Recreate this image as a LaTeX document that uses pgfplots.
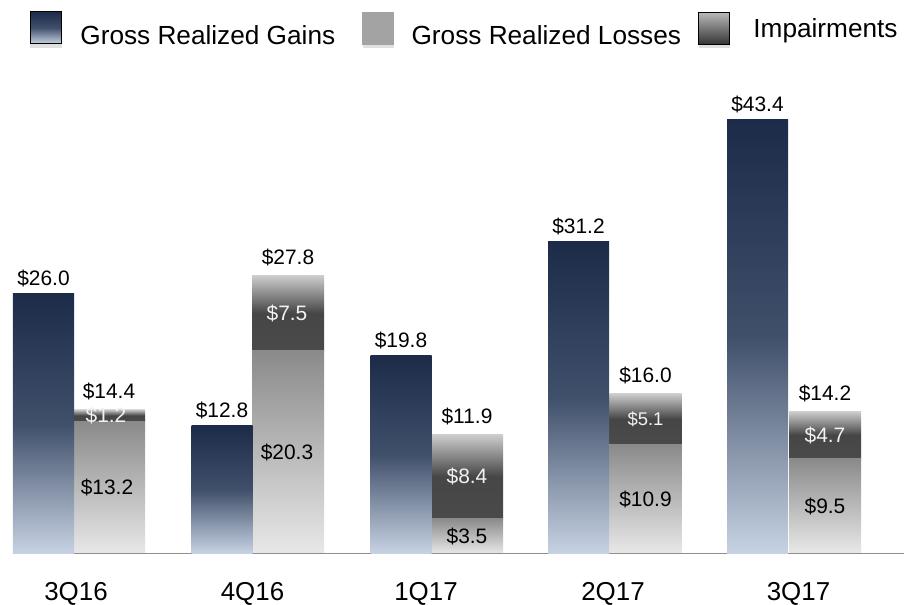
\documentclass[border=0pt]{standalone}
\usepackage{fontspec}
\setmainfont{Liberation Sans}
\usepackage{pgfplots}
\pgfplotsset{compat=1.18}
\definecolor{gainTop}{HTML}{1C2B48}
\definecolor{gainMid}{HTML}{404F6A}
\definecolor{gainBot}{HTML}{C7D3E3}
\definecolor{lossTop}{HTML}{8A8A8A}
\definecolor{lossBot}{HTML}{E8E8E8}
\definecolor{impTop}{HTML}{CDCDCD}
\definecolor{impMid}{HTML}{464646}
\definecolor{impBot}{HTML}{4A4A4A}
\definecolor{baseGrey}{HTML}{8F8F8F}
\definecolor{shadowGrey}{HTML}{E0E0E0}
\definecolor{lblWhite}{HTML}{F2F2F2}

% 1 px of the reference = 1 bp; x in pixels, y in $ (10 px per unit)
\pgfplotsset{
  frame/.style={width=887bp, height=553.5bp, scale only axis,
    xmin=17, xmax=904, ymin=0, ymax=55.35, enlargelimits=false,
    at={(0,0)}, anchor=south west, clip=false},
  stackframe/.style={frame, hide axis, ybar stacked, bar width=72},
  gainbar/.style={ybar, bar width=61, bar shift=0pt, draw=none, forget plot,
    top color=gainTop, bottom color=gainBot, middle color=gainMid},
  lossbar/.style={draw=none, top color=lossTop, bottom color=lossBot},
  impbar/.style={draw=none, top color=impTop, bottom color=impBot, middle color=impMid},
  vlabel/.style={draw=none, mark=none, forget plot, point meta=explicit symbolic,
    nodes near coords,
    every node near coord/.append style={font=\fontsize{21}{24}\selectfont,
      inner sep=0pt, #1}},
}

\begin{document}
\begin{tikzpicture}
% losses + impairments, one stacked axis per quarter so each segment gets its own gradient
\begin{axis}[stackframe]
  \addplot[lossbar] coordinates {(109,13.2)};
  \addplot[impbar] coordinates {(109,1.2)};
\end{axis}
\begin{axis}[stackframe]
  \addplot[lossbar] coordinates {(288,20.3)};
  \addplot[impbar] coordinates {(288,7.5)};
\end{axis}
\begin{axis}[stackframe]
  \addplot[lossbar] coordinates {(467,3.5)};
  \addplot[impbar] coordinates {(467,8.4)};
\end{axis}
\begin{axis}[stackframe]
  \addplot[lossbar] coordinates {(645.5,10.9)};
  \addplot[impbar] coordinates {(645.5,5.1)};
\end{axis}
\begin{axis}[stackframe]
  \addplot[lossbar] coordinates {(825,9.5)};
  \addplot[impbar] coordinates {(825,4.7)};
\end{axis}

% gains, labels, legend, baseline
\begin{axis}[frame, axis x line=bottom, axis y line=none,
  x axis line style={-, draw=baseGrey, line width=1.8bp},
  xtick={76,252.5,426,613,798.5},
  xticklabels={3Q16,4Q16,1Q17,2Q17,3Q17},
  major tick length=0pt,
  xticklabel style={font=\fontsize{26}{30}\selectfont, anchor=base, yshift=-46.5bp, inner sep=0pt},
  legend columns=3, legend cell align=left,
  legend style={at={(axis cs:30,54.2)}, anchor=north west, draw=none, fill=none,
    inner sep=0pt, outer sep=0pt, font=\fontsize{26.3}{30}\selectfont,
    cells={anchor=base west, inner sep=0pt},
    /tikz/column 1/.style={column sep=17bp}, /tikz/column 2/.style={column sep=25bp},
    /tikz/column 3/.style={column sep=16bp}, /tikz/column 4/.style={column sep=15bp},
    /tikz/column 5/.style={column sep=22bp}}]
  \addlegendimage{legend image code/.code={
    \fill[shadowGrey] (0.5bp,-2.5bp) rectangle (30.5bp,30bp);
    \shade[top color=gainTop, bottom color=gainBot, middle color=gainMid] (0bp,1bp) rectangle (31bp,33bp);}}
  \addlegendentry{Gross Realized Gains}
  \addlegendimage{legend image code/.code={
    \fill[shadowGrey] (0.5bp,-2.5bp) rectangle (30.5bp,30bp);
    \fill[black!36] (0bp,0bp) rectangle (31bp,32bp);}}
  \addlegendentry{Gross Realized Losses}
  \addlegendimage{legend image code/.code={
    \fill[shadowGrey] (0.5bp,-2.5bp) rectangle (30.5bp,30bp);
    \shade[top color=black!28, bottom color=black!80] (0bp,0bp) rectangle (31bp,32bp);}}
  \addlegendentry{\raisebox{7bp}{Impairments}}

  \addplot[gainbar] coordinates {(43.5,26.0)};
  \addplot[gainbar] coordinates {(222,12.8)};
  \addplot[gainbar] coordinates {(401,19.8)};
  \addplot[gainbar] coordinates {(578.5,31.2)};
  \addplot[gainbar] coordinates {(757.5,43.4)};

  % values above the gains bars
  \addplot[vlabel={anchor=base, yshift=8bp}]
    coordinates {(43.5,26.0)[\$26.0] (222,12.8)[\$12.8] (401,19.8)[\$19.8] (578.5,31.2)[\$31.2] (757.5,43.4)[\$43.4]};
  % totals above the loss stacks
  \addplot[vlabel={anchor=base, yshift=11bp}]
    coordinates {(109,14.4)[\$14.4] (288,27.8)[\$27.8] (467,11.9)[\$11.9] (645.5,16.0)[\$16.0] (825,14.2)[\$14.2]};
  % realized losses, inside
  \addplot[vlabel={anchor=center}]
    coordinates {(107,6.6)[\$13.2] (287,10.15)[\$20.3] (467,1.75)[\$3.5] (645.5,5.45)[\$10.9] (825,4.75)[\$9.5]};
  % impairments, inside
  \addplot[vlabel={anchor=center, text=lblWhite}]
    coordinates {(106,13.8)[\$1.2] (287,24.05)[\$7.5] (467,7.7)[\$8.4] (645.5,13.45)[{\fontsize{18.5}{20}\selectfont\$5.1}] (825,11.85)[\$4.7]};
\end{axis}
\pgfresetboundingbox
\path (-17bp,-51.5bp) rectangle (887bp,553.5bp);
\end{tikzpicture}
\end{document}
